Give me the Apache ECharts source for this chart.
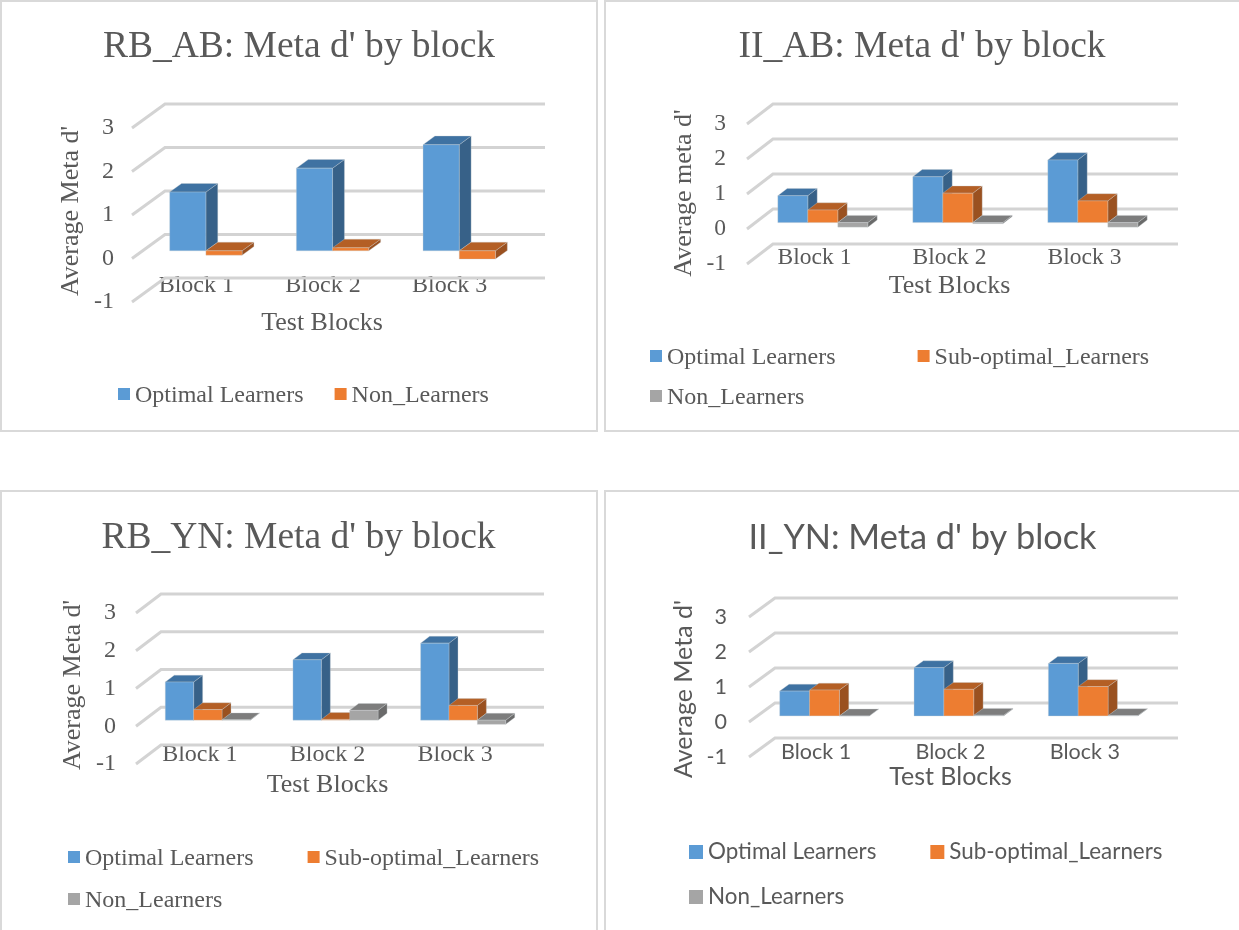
<!DOCTYPE html>
<html>
<head>
<meta charset="utf-8">
<style>html,body{margin:0;padding:0;background:#fff;overflow:hidden}#c{width:1239px;height:930px}</style>
<script src="https://cdn.jsdelivr.net/npm/echarts@6/dist/echarts.min.js"></script>
</head>
<body>
<div id="c"></div>
<script>
// ---- data ----
var blocks = ['Block 1', 'Block 2', 'Block 3'];
var yTicks = [-1, 0, 1, 2, 3];

var rbAbOptimal = [1.35, 1.90, 2.44];
var rbAbNon = [-0.10, 0.07, -0.19];

var iiAbOptimal = [0.77, 1.31, 1.79];
var iiAbSub = [0.36, 0.84, 0.62];
var iiAbNon = [-0.13, -0.03, -0.13];

var rbYnOptimal = [1.01, 1.60, 2.04];
var rbYnSub = [0.28, 0.02, 0.39];
var rbYnNon = [0.01, 0.26, -0.11];

var iiYnOptimal = [0.71, 1.38, 1.50];
var iiYnSub = [0.74, 0.76, 0.84];
var iiYnNon = [0.00, 0.02, 0.01];

var NAME_OPT = 'Optimal Learners', NAME_SUB = 'Sub-optimal_Learners', NAME_NON = 'Non_Learners';

var BLUE = {front: '#5B9BD5', top: '#3F72A2', side: '#376188'};
var ORANGE = {front: '#ED7D31', top: '#B45F25', side: '#9A5120'};
var GRAY = {front: '#A5A5A5', top: '#7D7D7D', side: '#6A6A6A'};

var SERIF = '"Liberation Serif"', SANS = 'Lato';

var panels = [
  {title: "RB_AB: Meta d' by block", yName: "Average Meta d'", font: SERIF,
   series: [[NAME_OPT, rbAbOptimal, BLUE], [NAME_NON, rbAbNon, ORANGE]],
   box: [1, 1, 596, 430], titleX: 294, titleY: 42, grid: [132, 128, 380, 174], depth: [33, 24],
   tickSize: 24, nameSize: 26, titleSize: 37.5, legendSize: 24, labelRight: 18,
   catY: 286, xNameY: 323, yNameX: 71, yNameY: 211, catShift: 1, tickUp: 2, legendDrop: 4,
   legends: [{x: 118, y: 394, gap: 31, items: [[NAME_OPT, BLUE], [NAME_NON, ORANGE]]}], icon: 12},
  {title: "II_AB: Meta d' by block", yName: "Average meta d'", font: SERIF,
   series: [[NAME_OPT, iiAbOptimal, BLUE], [NAME_SUB, iiAbSub, ORANGE], [NAME_NON, iiAbNon, GRAY]],
   box: [605, 1, 640, 430], titleX: 917, titleY: 42, grid: [747, 124, 405, 140], depth: [26, 20],
   tickSize: 23.5, nameSize: 26, titleSize: 37.5, legendSize: 24, labelRight: 21,
   catY: 258, xNameY: 286, yNameX: 684, yNameY: 193, catShift: 0, tickUp: 0, legendDrop: 4,
   legends: [{x: 650, y: 356, gap: 82, items: [[NAME_OPT, BLUE], [NAME_SUB, ORANGE]]}, {x: 650, y: 396, gap: 82, items: [[NAME_NON, GRAY]]}], icon: 12},
  {title: "RB_YN: Meta d' by block", yName: "Average Meta d'", font: SERIF,
   series: [[NAME_OPT, rbYnOptimal, BLUE], [NAME_SUB, rbYnSub, ORANGE], [NAME_NON, rbYnNon, GRAY]],
   box: [1, 491, 596, 445], titleX: 293.5, titleY: 533, grid: [136, 613, 383, 151], depth: [25, 19],
   tickSize: 24, nameSize: 26, titleSize: 37.5, legendSize: 24, labelRight: 20,
   catY: 755, xNameY: 785, yNameX: 73, yNameY: 685, catShift: 0, tickUp: 2, legendDrop: 4,
   legends: [{x: 68, y: 857, gap: 54, items: [[NAME_OPT, BLUE], [NAME_SUB, ORANGE]]}, {x: 68, y: 899, gap: 54, items: [[NAME_NON, GRAY]]}], icon: 12},
  {title: "II_YN: Meta d' by block", yName: "Average Meta d'", font: SANS,
   series: [[NAME_OPT, iiYnOptimal, BLUE], [NAME_SUB, iiYnSub, ORANGE], [NAME_NON, iiYnNon, GRAY]],
   box: [605, 491, 640, 445], titleX: 917.5, titleY: 533, grid: [749, 617, 403, 140], depth: [26, 19],
   tickSize: 21.5, nameSize: 25, titleSize: 34.3, legendSize: 22.4, labelRight: 22,
   catY: 752, xNameY: 777, yNameX: 684, yNameY: 689, catShift: 0, tickUp: 0, legendDrop: 0,
   legends: [{x: 689, y: 852, gap: 54, items: [[NAME_OPT, BLUE], [NAME_SUB, ORANGE]]}, {x: 689, y: 897, gap: 54, items: [[NAME_NON, GRAY]]}], icon: 14}
];

var TEXT = '#595959';
var option = {
  animation: false, backgroundColor: '#fff',
  title: [], legend: [], grid: [], xAxis: [], yAxis: [], series: [],
  graphic: {elements: []}
};

panels.forEach(function (p, pi) {
  var g = p.grid, dx = p.depth[0], dy = p.depth[1];

  option.graphic.elements.push({
    type: 'rect', silent: true, z: 0,
    shape: {x: p.box[0], y: p.box[1], width: p.box[2], height: p.box[3]},
    style: {fill: '#fff', stroke: '#D9D9D9', lineWidth: 2}
  });

  option.title.push({
    text: p.title, left: p.titleX, top: p.titleY,
    textAlign: 'center', textVerticalAlign: 'middle',
    textStyle: {fontFamily: p.font, fontSize: p.titleSize, fontWeight: 'normal', color: TEXT}
  });

  p.legends.forEach(function (l) {
    // the raised square keeps the swatch slightly above the text centre, as in the reference
    var lift = p.legendDrop;
    var iconPath = lift ? 'path://M0 0H' + p.icon + 'V' + p.icon + 'H0ZM0 ' + (p.icon + lift) + 'Z' : 'rect';
    option.legend.push({
      left: l.x, top: l.y - 14, itemGap: l.gap, padding: 0, icon: iconPath,
      itemWidth: p.icon, itemHeight: p.icon + lift, selectedMode: false,
      data: l.items.map(function (it) { return {name: it[0], itemStyle: {color: it[1].front}}; }),
      textStyle: {fontFamily: p.font, fontSize: p.legendSize, color: TEXT, lineHeight: 28, padding: [p.legendDrop, 0, 0, 0]}
    });
  });

  option.grid.push({left: g[0], top: g[1], width: g[2], height: g[3], containLabel: false});

  option.xAxis.push({
    type: 'category', gridIndex: pi, data: blocks, position: 'bottom',
    axisLine: {show: false}, axisTick: {show: false}, splitLine: {show: false},
    axisLabel: {
      interval: 0, margin: p.catY - (g[1] + g[3]) - 13, lineHeight: 26, height: 26,
      verticalAlign: 'top', hideOverlap: false, padding: [0, 0, 0, p.catShift * 2],
      fontFamily: p.font, fontSize: p.tickSize, color: TEXT
    },
    name: 'Test Blocks', nameLocation: 'middle', nameMoveOverlap: false,
    nameGap: p.xNameY - (g[1] + g[3]),
    nameTextStyle: {fontFamily: p.font, fontSize: p.nameSize, color: TEXT, verticalAlign: 'middle'}
  });

  var shiftUp = g[1] + g[3] / 2 - p.yNameY;
  option.yAxis.push({
    type: 'value', gridIndex: pi, min: yTicks[0], max: yTicks[yTicks.length - 1], interval: 1,
    axisLine: {show: false}, axisTick: {show: false}, splitLine: {show: false},
    axisLabel: {margin: p.labelRight, fontFamily: p.font, fontSize: p.tickSize, color: TEXT, padding: [0, 0, p.tickUp, 0]},
    name: p.yName, nameLocation: 'middle', nameRotate: 90, nameMoveOverlap: false,
    nameGap: g[0] - p.yNameX,
    nameTextStyle: {fontFamily: p.font, fontSize: p.nameSize, color: TEXT, verticalAlign: 'middle',
      padding: shiftUp > 0 ? [0, 0, 0, 2 * shiftUp] : [0, -2 * shiftUp, 0, 0]}
  });

  // side wall + back wall rules
  option.series.push({
    type: 'custom', xAxisIndex: pi, yAxisIndex: pi, z: 1, silent: true, clip: false,
    data: yTicks.map(function (t) { return [0, t]; }),
    encode: {x: 0, y: 1},
    renderItem: function (params, api) {
      var y = api.coord([0, api.value(1)])[1];
      var left = params.coordSys.x, right = left + params.coordSys.width;
      return {
        type: 'polyline',
        shape: {points: [[left, y], [left + dx, y - dy], [right + dx, y - dy]]},
        style: {fill: null, stroke: '#D3D3D3', lineWidth: 3}
      };
    }
  });

  var n = p.series.length;
  p.series.forEach(function (s, si) {
    var name = s[0], f = s[2];
    option.series.push({
      type: 'custom', name: name, xAxisIndex: pi, yAxisIndex: pi, z: 2 + si, silent: true, clip: false,
      itemStyle: {color: f.front},
      data: s[1].map(function (v, i) { return [i, v]; }),
      encode: {x: 0, y: 1},
      renderItem: function (params, api) {
        var idx = api.value(0), v = api.value(1);
        var band = api.size([1, 0])[0];
        var bw = band / (n + 1.5);
        var ox = dx * 0.32, oy = dy * 0.32;    // bar front plane inside the floor depth
        var bx = dx * 0.36, by = dy * 0.36;    // bar depth
        var c0 = api.coord([idx, 0]), cv = api.coord([idx, v]);
        var x0 = c0[0] - n * bw / 2 + si * bw + ox, x1 = x0 + bw;
        var top = Math.min(c0[1], cv[1]) - oy, bot = Math.max(c0[1], cv[1]) - oy;
        var edge = 'rgba(200,205,210,0.55)';
        return {
          type: 'group',
          children: [
            {type: 'polygon', shape: {points: [[x1, top], [x1 + bx, top - by], [x1 + bx, bot - by], [x1, bot]]},
             style: {fill: f.side, stroke: edge, lineWidth: 0.6}},
            {type: 'polygon', shape: {points: [[x0, top], [x0 + bx, top - by], [x1 + bx, top - by], [x1, top]]},
             style: {fill: f.top, stroke: edge, lineWidth: 0.6}},
            {type: 'rect', shape: {x: x0, y: top, width: bw, height: bot - top},
             style: {fill: f.front, stroke: edge, lineWidth: 0.6}}
          ]
        };
      }
    });
  });
});

var chart = echarts.init(document.getElementById('c'), null, {renderer: 'canvas'});
chart.setOption(option);
</script>
</body>
</html>
